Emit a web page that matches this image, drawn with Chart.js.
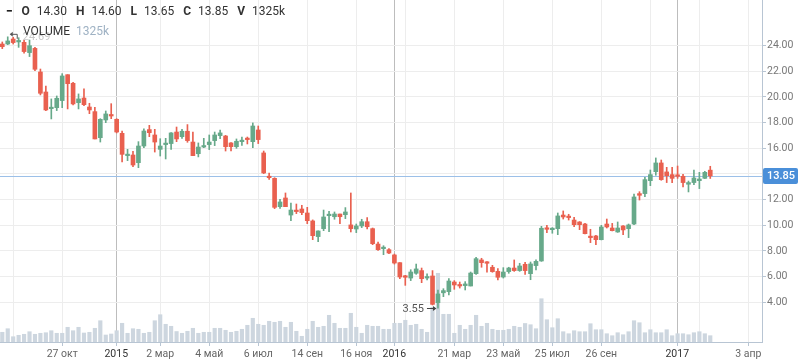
<!DOCTYPE html>
<html>
<head>
<meta charset="utf-8">
<script src="https://cdn.jsdelivr.net/npm/chart.js@4.4.0/dist/chart.umd.min.js"></script>
<style>
  html, body { margin: 0; padding: 0; background: #fff; overflow: hidden; }
  #wrap { position: relative; width: 798px; height: 363px; }
  #chart { position: absolute; left: 0; top: 0; }
  .hdr { position: absolute; font-family: Roboto, sans-serif; font-size: 12px; color: #333; white-space: nowrap; line-height: 14px; }
  .hdr .dash { font-weight: 900; margin-right: 9px; color: #111; }
  .hdr .k { font-weight: bold; margin-right: 7px; }
  .hdr .v { margin-right: 9px; }
  #vol .vv { color: #9fb2c4; margin-left: 6px; }
</style>
</head>
<body>
<div id="wrap">
  <canvas id="chart" width="798" height="363"></canvas>
  <div class="hdr" id="ohlc" style="left:6px;top:4px"></div>
  <div class="hdr" id="vol" style="left:23px;top:24px">VOLUME<span class="vv" id="volVal"></span></div>
</div>
<script>
// weekly candles (oldest first)
const opens = [24.13,24.13,24.52,24.29,24.26,23.46,23.79,21.95,20.39,19.09,
  19.17,19.72,21.74,21.07,19.56,19.92,19.22,18.86,16.83,18.21,
  18.57,18.26,17.17,15.43,15.48,14.88,16.18,17.46,17.04,15.92,
  16.29,16.37,17.27,16.91,17.33,16.49,15.58,16.10,16.29,16.60,
  16.99,16.96,16.42,16.13,16.52,16.73,16.52,17.43,15.64,13.82,
  13.66,11.45,12.13,10.80,11.14,11.27,10.96,10.34,9.12,9.74,
  10.75,10.67,10.88,10.83,10.03,9.71,9.95,10.28,9.74,8.54,
  8.18,8.10,7.69,7.09,6.00,5.89,6.26,6.47,5.89,6.05,
  3.97,4.74,4.83,5.58,5.35,5.30,5.27,6.23,7.30,7.09,
  6.73,6.41,5.97,6.39,6.67,6.47,6.96,6.23,6.86,7.22,
  9.74,9.66,9.74,10.80,10.65,10.41,10.26,10.10,9.09,9.17,
  8.88,10.10,9.79,9.48,9.95,9.74,10.10,12.47,12.47,13.48,
  14.18,14.86,14.16,13.95,13.87,13.82,13.20,13.33,13.48,13.66,
  14.30];
const highs = [24.29,24.69,24.65,24.62,24.44,24.44,23.87,22.18,20.86,19.85,
  20.08,21.82,21.74,21.15,20.24,20.63,19.51,19.20,18.31,18.91,
  19.48,18.31,17.35,15.92,15.77,16.52,17.51,17.79,17.48,16.75,
  16.78,17.22,17.66,17.48,17.85,17.27,16.42,16.78,17.04,17.27,
  17.43,17.01,16.44,16.73,16.88,16.88,17.98,17.74,15.79,14.08,
  13.71,12.03,12.52,11.74,11.66,11.56,11.40,10.42,9.56,11.19,
  11.09,11.04,10.88,11.38,12.52,10.10,10.47,10.60,9.79,8.70,
  8.41,8.18,7.76,7.09,6.10,6.54,6.98,6.67,6.21,6.47,
  4.96,5.06,5.84,5.69,5.58,5.61,6.36,7.50,7.43,7.17,
  6.88,6.62,6.70,6.73,7.30,7.04,7.11,7.14,7.30,9.92,
  10.00,9.82,10.96,11.12,10.86,10.62,10.29,10.15,9.69,9.22,
  10.00,10.49,10.15,10.26,9.97,10.10,12.44,12.62,13.74,14.31,
  15.25,15.09,14.52,14.52,14.62,13.97,13.45,14.31,14.13,14.21,
  14.60];
const lows = [23.77,24.08,24.13,23.87,23.41,23.15,22.05,20.16,18.94,18.29,
  18.94,19.17,19.07,19.38,19.07,19.33,18.70,16.73,16.49,18.00,
  18.31,17.20,14.94,15.04,14.57,14.49,16.05,16.91,15.71,15.40,
  15.17,15.92,16.52,16.78,16.47,15.43,15.33,16.05,15.90,16.21,
  16.75,15.79,15.79,16.00,16.23,16.34,16.05,16.37,14.03,13.58,
  11.30,11.32,11.45,10.36,10.91,10.83,10.13,8.88,8.73,9.58,
  9.51,10.47,10.13,10.52,9.48,9.43,9.82,9.71,8.49,8.04,
  7.71,7.79,6.98,5.84,5.32,5.69,6.18,5.53,5.74,3.79,
  3.55,4.44,4.57,5.01,5.11,4.96,5.27,6.18,6.73,6.34,
  6.34,5.74,5.89,6.26,6.41,6.41,6.18,5.76,6.52,7.19,
  9.43,9.38,9.27,10.49,10.41,9.90,9.66,9.32,8.65,8.49,
  8.86,9.79,9.56,9.45,9.27,9.04,10.05,11.97,12.23,13.09,
  13.90,13.51,13.33,13.33,13.66,12.99,12.60,13.17,12.86,13.64,
  13.65];
const closes = [23.92,24.37,24.24,24.37,23.54,24.00,22.16,20.29,18.99,19.17,
  19.90,21.64,21.04,19.46,19.85,19.40,18.99,16.73,18.26,18.68,
  18.52,17.27,15.53,15.48,14.70,16.18,17.35,17.22,16.49,16.18,
  16.34,17.20,16.73,17.33,16.60,15.43,16.10,16.18,16.49,17.04,
  17.20,16.13,16.13,16.55,16.57,16.68,17.74,16.68,14.08,13.71,
  11.40,11.82,11.45,11.19,11.07,10.99,10.36,9.19,9.56,10.65,
  10.80,10.88,10.67,11.04,9.74,9.95,10.28,9.89,8.57,8.10,
  8.23,7.84,7.06,5.97,5.95,6.36,6.60,5.84,5.95,3.84,
  4.65,4.91,5.66,5.35,5.27,5.43,6.28,7.40,7.09,7.04,
  6.39,5.95,6.36,6.67,6.47,6.83,6.47,6.99,7.19,9.77,
  9.69,9.77,10.73,10.65,10.60,10.05,10.05,9.35,9.04,8.88,
  9.87,9.87,9.58,9.79,9.64,10.03,12.21,12.34,13.56,13.95,
  14.86,13.56,13.87,13.66,13.82,13.33,13.33,13.69,13.61,14.13,
  13.85];
// volume, thousands
const volumes = [2040,2790,1110,1410,1620,2160,1620,1830,1950,2370,
  1830,1830,3090,2370,3090,1890,2040,2880,4470,1470,
  1680,2370,3930,1830,2790,2670,1830,2040,4470,5730,
  3720,3300,2200,1830,2250,2880,1830,2040,2040,2880,
  2880,2460,2040,2250,2670,3510,4980,3720,3510,4350,
  4140,4350,3090,4140,2250,1200,2670,4350,3090,3300,
  5610,3930,2880,2880,6030,3090,1830,3510,3300,3300,
  2670,2670,3930,3930,4560,3510,3720,2670,2040,7290,
  14430,5820,5820,1830,3510,2670,3510,5610,3300,3930,
  2670,2460,2460,2670,3300,3090,3890,3630,2790,9090,
  4680,3000,4890,2160,1740,2370,2160,2160,3840,2580,
  2580,1740,1320,1950,1530,2160,4470,4050,1950,2580,
  1950,1950,2580,1320,1740,1740,1530,1950,2160,1740,
  1325];

// time axis: position in weeks from the first candle, and its label
const tickWeeks  = [2, 11, 20.93, 29, 38, 47, 56, 65, 71.98, 74, 83, 92, 101, 110, 119, 123.94, 128, 137];
const tickLabels = ['', '27 окт', '2015', '2 мар', '4 май', '6 июл', '14 сен', '16 ноя', '2016', '', '21 мар', '23 май', '25 июл', '26 сен', '', '2017', '', '3 апр'];
const yearTicks  = ['2015', '2016', '2017'];
const priceTicks = [4, 6, 8, 10, 12, 14, 16, 18, 20, 22, 24];

const UP = '#67a98a', DOWN = '#e9604f', VOL = '#cdd6df', AXIS = '#b8c5d3';
const last = closes.length - 1;

// header
const f2 = v => v.toFixed(2);
document.getElementById('ohlc').innerHTML =
  '<span class="dash">\u2212</span>' +
  '<span class="k">O</span><span class="v">' + f2(opens[last]) + '</span>' +
  '<span class="k">H</span><span class="v">' + f2(highs[last]) + '</span>' +
  '<span class="k">L</span><span class="v">' + f2(lows[last]) + '</span>' +
  '<span class="k">C</span><span class="v">' + f2(closes[last]) + '</span>' +
  '<span class="k">V</span><span class="v">' + volumes[last] + 'k</span>';
document.getElementById('volVal').textContent = volumes[last] + 'k';

const candleColors = opens.map((o, i) => closes[i] >= o ? UP : DOWN);
const isYear = i => yearTicks.includes(tickLabels[i]);

// last price line, price box and high/low markers
const overlays = {
  id: 'overlays',
  beforeDatasetsDraw(chart) {
    const { ctx, chartArea, scales } = chart;
    const y = Math.round(scales.y.getPixelForValue(closes[last])) + 0.5;
    ctx.save();
    ctx.strokeStyle = '#9cc0e8';
    ctx.lineWidth = 1;
    ctx.beginPath();
    ctx.moveTo(chartArea.left, y);
    ctx.lineTo(chartArea.right, y);
    ctx.stroke();
    ctx.restore();
  },
  afterDraw(chart) {
    const { ctx, chartArea, scales } = chart;
    ctx.save();
    // price box
    const yc = scales.y.getPixelForValue(closes[last]);
    ctx.fillStyle = '#4a8fd9';
    ctx.beginPath();
    ctx.roundRect(chartArea.right + 1, yc - 8, 35, 16, 2);
    ctx.fill();
    ctx.fillStyle = '#fff';
    ctx.font = '500 11px Roboto';
    ctx.textBaseline = 'middle';
    ctx.fillText(f2(closes[last]), chartArea.right + 5, yc + 0.5);

    // highest high
    let hi = 0, lo = 0;
    highs.forEach((v, i) => { if (v > highs[hi]) hi = i; });
    lows.forEach((v, i) => { if (v < lows[lo]) lo = i; });
    let x = scales.x.getPixelForValue(hi), y = scales.y.getPixelForValue(highs[hi]) - 3;
    ctx.strokeStyle = '#555';
    ctx.fillStyle = '#555';
    ctx.lineWidth = 1;
    ctx.beginPath();
    ctx.moveTo(x + 3, y + 0.5); ctx.lineTo(x + 9.5, y + 0.5); ctx.lineTo(x + 9.5, y + 5);
    ctx.stroke();
    ctx.beginPath();
    ctx.moveTo(x + 2, y + 0.5); ctx.lineTo(x + 5, y - 2); ctx.lineTo(x + 5, y + 3);
    ctx.fill();
    ctx.fillStyle = '#c9c9c9';
    ctx.font = '11px Roboto';
    ctx.fillText(f2(highs[hi]), x + 15, y + 3);

    // lowest low
    x = scales.x.getPixelForValue(lo);
    y = Math.round(scales.y.getPixelForValue(lows[lo])) + 0.5;
    ctx.strokeStyle = '#444';
    ctx.fillStyle = '#444';
    ctx.beginPath();
    ctx.moveTo(x - 11, y); ctx.lineTo(x - 3, y);
    ctx.stroke();
    ctx.beginPath();
    ctx.moveTo(x - 1.5, y); ctx.lineTo(x - 5, y - 2.5); ctx.lineTo(x - 5, y + 2.5);
    ctx.fill();
    ctx.fillStyle = '#555';
    ctx.textAlign = 'right';
    ctx.font = '11px Roboto';
    ctx.fillText(f2(lows[lo]), x - 14, y + 0.5);
    ctx.restore();
  }
};

const ctx = document.getElementById('chart').getContext('2d');
new Chart(ctx, {
  type: 'bar',
  data: {
    datasets: [
      { // bodies
        data: opens.map((o, i) => ({ x: i, y: [o, closes[i]] })),
        backgroundColor: candleColors, barThickness: 4, minBarLength: 1.5,
        grouped: false, yAxisID: 'y', order: 0
      },
      { // wicks
        data: lows.map((l, i) => ({ x: i, y: [l, highs[i]] })),
        backgroundColor: candleColors, barThickness: 1,
        grouped: false, yAxisID: 'y', order: 1
      },
      { // volume
        data: volumes.map((v, i) => ({ x: i, y: v })),
        backgroundColor: VOL, barThickness: 3.5,
        grouped: false, yAxisID: 'vol', order: 2
      }
    ]
  },
  options: {
    responsive: false,
    animation: false,
    events: [],
    layout: { padding: 0 },
    plugins: { legend: { display: false }, tooltip: { enabled: false } },
    scales: {
      x: {
        type: 'linear', min: -0.42, max: 139.5, offset: false,
        afterBuildTicks: s => { s.ticks = tickWeeks.map(v => ({ value: v })); },
        afterFit: s => { s.height = 21; s.paddingLeft = 0; s.paddingRight = 0; },
        grid: {
          offset: false,
          color: c => isYear(c.index) ? '#bdbdbd' : '#ededed',
          tickColor: c => tickLabels[c.index] ? AXIS : 'rgba(0,0,0,0)',
          tickLength: 4
        },
        border: { color: AXIS },
        ticks: {
          autoSkip: false, maxRotation: 0, padding: 2,
          color: c => isYear(c.index) ? '#333' : '#666',
          font: { family: 'Roboto', size: 10.5 },
          callback: (v, i) => tickLabels[i]
        }
      },
      y: {
        position: 'right', min: 0.905, max: 27.56,
        afterBuildTicks: s => { s.ticks = priceTicks.map(v => ({ value: v })); },
        afterFit: s => { s.width = 36; s.paddingTop = 0; s.paddingBottom = 0; },
        grid: { color: '#ededed', tickColor: AXIS, tickLength: 4 },
        border: { color: AXIS },
        ticks: {
          padding: 1, color: '#777',
          font: { family: 'Roboto', size: 10.5 },
          callback: v => v.toFixed(2)
        }
      },
      vol: { display: false, min: 0, max: 71820 }
    }
  },
  plugins: [overlays]
});
</script>
</body>
</html>
